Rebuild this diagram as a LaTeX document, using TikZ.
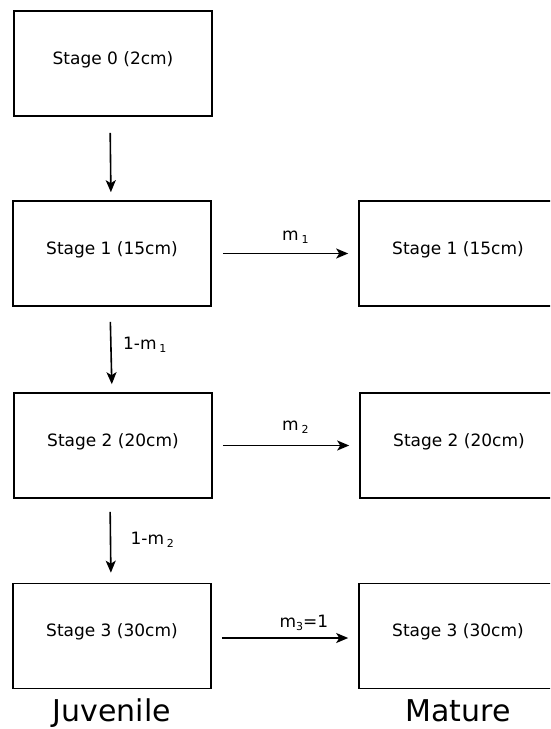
\documentclass[tikz,border=0pt]{standalone}
\usepackage{fontspec}
\setmainfont{DejaVu Sans}
\usetikzlibrary{arrows.meta}
\newcommand{\lowidx}[1]{\raisebox{-3pt}{\fontsize{11}{13}\selectfont #1}}

\begin{document}
\begin{tikzpicture}[x=1pt,y=-1pt,>={Stealth[length=12pt,width=10pt,inset=3pt]},
  stagebox/.style={draw,line width=1.6pt,minimum width=198pt,minimum height=105pt,inner sep=0pt},
  boxtext/.style={font=\fontsize{17}{20}\selectfont,yshift=4pt},
  flow/.style={->,line width=1.6pt},
  rate/.style={font=\fontsize{17}{20}\selectfont,anchor=base west}]
  \useasboundingbox (0,0) rectangle (550,729);
  \clip (0,0) rectangle (550,729);
  % juvenile stages
  \node[stagebox,label={[boxtext]center:Stage 0 (2cm)}] (s0) at (113,63.5) {};
  \node[stagebox,label={[boxtext]center:Stage 1 (15cm)}] (j1) at (112,253.5) {};
  \node[stagebox,label={[boxtext]center:Stage 2 (20cm)}] (j2) at (113,445.5) {};
  \node[stagebox,label={[boxtext]center:Stage 3 (30cm)}] (j3) at (112,636) {};
  % mature stages
  \node[stagebox,label={[boxtext]center:Stage 1 (15cm)}] (m1) at (458,253.5) {};
  \node[stagebox,label={[boxtext]center:Stage 2 (20cm)}] (m2) at (459,445.5) {};
  \node[stagebox,label={[boxtext]center:Stage 3 (30cm)}] (m3) at (458,636) {};
  % growth
  \draw[flow,shorten <=16pt,shorten >=8pt] ([xshift=-3pt]s0.south) -- ([xshift=-1pt]j1.north);
  \draw[flow,shorten <=15pt,shorten >=8pt] ([xshift=-2pt]j1.south) --
      node[rate,xshift=8pt,yshift=0pt] {1-m\,\lowidx{1}} ([xshift=-1pt]j2.north);
  \draw[flow,shorten <=13pt,shorten >=10pt] ([xshift=-3pt]j2.south) --
      node[rate,xshift=16pt,yshift=-4pt] {1-m\,\lowidx{2}} ([xshift=-1pt]j3.north);
  % maturation
  \draw[flow,shorten <=11pt,shorten >=10pt] (j1.east) --
      node[rate,xshift=-7pt,yshift=13pt] {m\,\lowidx{1}} (m1.west);
  \draw[flow,shorten <=10pt,shorten >=10pt] (j2.east) --
      node[rate,xshift=-8pt,yshift=15.5pt] {m\,\lowidx{2}} (m2.west);
  \draw[flow,shorten <=10pt,shorten >=10pt] ([yshift=-2pt]j3.east) --
      node[rate,xshift=-9.5pt,yshift=11pt] {m\lowidx{3}=1} ([yshift=-2pt]m3.west);
  % columns
  \node[font=\fontsize{30}{36}\selectfont,anchor=base] (juv) at ([yshift=-32pt]j3.south) {Juvenile};
  \node[font=\fontsize{30}{36}\selectfont,anchor=base] (mat) at ([yshift=-32pt]m3.south) {Mature};
\end{tikzpicture}
\end{document}
